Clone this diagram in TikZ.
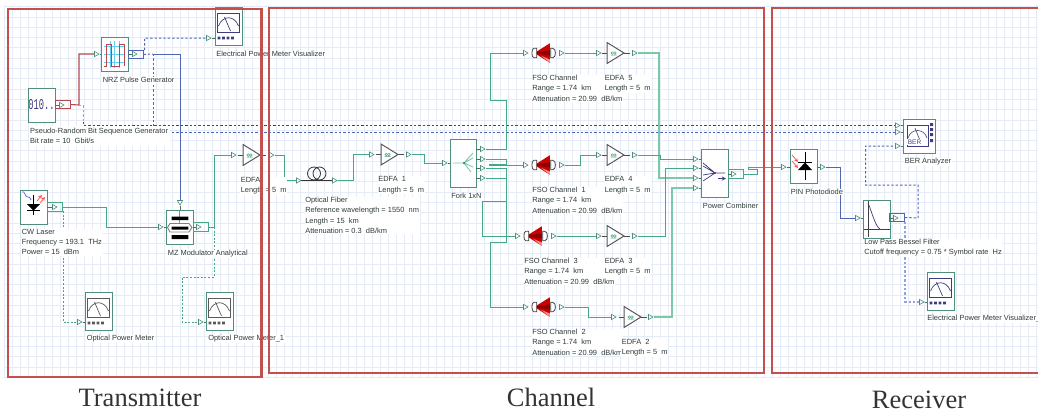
\documentclass[tikz,border=0pt]{standalone}
\usepackage{fontspec}
\setmainfont{Liberation Sans}
\newfontfamily\capfont{Liberation Serif}
\newfontfamily\monofont{Liberation Mono}
\usetikzlibrary{shapes.geometric}
\definecolor{gridblue}{HTML}{E5ECF8}
\definecolor{boxgreen}{HTML}{4F8F7C}
\definecolor{wiregreen}{HTML}{45A884}
\definecolor{wirelight}{HTML}{7CC9AA}
\definecolor{wireblue}{HTML}{4F66B4}
\definecolor{wirered}{HTML}{B5474A}
\definecolor{busred}{HTML}{A02030}
\definecolor{frame}{HTML}{C4504E}
\definecolor{navy}{HTML}{3C3C80}
\definecolor{labeltext}{HTML}{2F3B3B}
\begin{document}
\begin{tikzpicture}[x=1pt, y=-1pt,
  comp/.style={rectangle, draw=boxgreen, line width=0.9pt, fill=white,
    minimum width=27, minimum height=34, inner sep=0pt},
  meterbox/.style={comp, minimum height=38},
  port/.style={regular polygon, regular polygon sides=3, shape border rotate=-90,
    draw=boxgreen, fill=white, line width=0.6pt, minimum size=6, inner sep=0pt},
  portdown/.style={port, shape border rotate=180},
  pbox/.style={rectangle, draw=#1, line width=0.8pt, minimum width=15, minimum height=8.5,
    inner sep=0pt},
  tick/.style={draw=boxgreen!80!black, line width=0.7pt},
  wire/.style={draw=wiregreen, line width=1pt},
  wirel/.style={draw=wirelight, line width=1.3pt},
  bwire/.style={draw=wireblue, line width=1pt},
  rwire/.style={draw=wirered, line width=1.1pt},
  gdash/.style={wire, line width=0.9pt, dash pattern=on 2pt off 1.6pt},
  bdash/.style={bwire, dash pattern=on 2.4pt off 2pt},
  rdash/.style={draw=busred, line width=0.9pt, dash pattern=on 2.4pt off 2pt},
  lbl/.style={anchor=north west, align=left, fill=white, inner sep=0.6pt, text=labeltext,
    yshift=-1pt, font=\fontsize{7.45}{10.2}\selectfont},
  sectcap/.style={text=black!80, font=\capfont\fontsize{26.5}{28}\selectfont, inner sep=0pt},
  redbox/.style={draw=frame, line width=2.4pt},
  pics/meter/.style={code={
    \draw[#1, line width=0.9pt] (-11,-13) rectangle (11,6);
    \draw[#1, line width=0.7pt] (-10,0) .. controls (-6,-11) and (6,-11) .. (10,0);
    \draw[#1, line width=0.7pt] (-4,-9) -- (2,5);
    \fill[#1] (-11,10.5) rectangle ++(2.8,2.8) (-6.5,10.5) rectangle ++(2.8,2.8)
      (-2,10.5) rectangle ++(2.8,2.8) (2.5,10.5) rectangle ++(2.8,2.8);
  }},
  pics/edfa/.style={code={
    \draw[tick, black!70] (-14,0) -- (14,0);
    \draw[black!65, fill=white, line width=1pt] (-8.5,-10.5) -- (8.5,0) -- (-8.5,10.5) -- cycle;
    \draw[wiregreen, line width=0.5pt] (-3.2,0) circle (1.3) (-0.6,0) circle (1.3)
      (-5,2.2) -- (1,2.2);
  }},
  pics/fso/.style={code={
    \draw[black!75, fill=white, line width=0.8pt] (-6.5,-4.7) -- (-9.5,-4.7)
      .. controls (-12,-4.7) and (-12,4.7) .. (-9.5,4.7) -- (-6.5,4.7) -- cycle;
    \fill[red!80!black] (-6.5,-1.5) -- (6.5,-9.7) -- (6.5,9.7) -- (-6.5,1.5) -- cycle;
    \fill[red!55!black] (-6.5,-0.8) -- (6.5,-2.5) -- (6.5,2.5) -- (-6.5,0.8) -- cycle;
    \fill[red!45] (-2,2.9) -- (6.5,6.5) -- (6.5,9.7) -- cycle;
    \draw[black!75, fill=white, line width=0.8pt] (7.4,-4.7) -- (9.5,-4.7)
      .. controls (13,-4.7) and (13,4.7) .. (9.5,4.7) -- (7.4,4.7) -- cycle;
  }},
]

% Background grid
\useasboundingbox (0,0) rectangle (1038,413);
\foreach \gx in {4.7,12.7,...,1038}
  \draw[gridblue, line width=1pt] (\gx,5) -- (\gx,378);
\foreach \gy in {6.7,17,...,378}
  \draw[gridblue, line width=1pt] (4.7,\gy) -- (1038,\gy);

% Transmitter components
\node[comp] (prbs) at (41.5,105) {};
\node[text=navy, font=\monofont\fontsize{15}{15}\selectfont, xscale=0.58, transform shape, inner sep=0pt]
  (prbsdigits) at (41.5,105) {010..};
\node[comp] (nrz) at (114.5,54.5) {};
\draw[cyan!60, line width=0.6pt] (104,46) -- (125,46) (104,54) -- (125,54) (104,62) -- (125,62)
  (110,41) -- (110,68) (114.5,41) -- (114.5,68) (119,41) -- (119,68);
\draw[wirered, line width=0.9pt] (104,66) -- (106,66) -- (106,44) -- (111,44) -- (111,66)
  -- (119,66) -- (119,44) -- (124,44) -- (124,66);
\node[meterbox] (viz) at (228.5,26) {};
\pic at (228.5,26) {meter=navy};
\node[comp] (laser) at (33.5,207) {};
\draw[wireblue, line width=0.7pt] (22,192) .. controls (25,190) and (25,198) .. (28,197)
  .. controls (30,196) and (30,199) .. (31,200);
\draw[black, line width=0.8pt] (33,195) -- (33,215) (27,210.5) -- (40,210.5);
\fill[black] (27,204) -- (40,204) -- (33.5,210.5) -- cycle;
\draw[red!70, line width=0.7pt, -stealth] (40,203) -- (45,197);
\draw[red!70, line width=0.7pt, -stealth] (37,201) -- (42,195);
\node[comp] (mz) at (179.5,227.5) {};
\draw[black!45, line width=1pt] (179.5,211) -- (179.5,224);
\fill[black] (171.7,216.7) rectangle (188.3,220) (171.7,226.5) rectangle (188.3,229.5)
  (171.7,235) rectangle (188.3,239);
\draw[black!50, line width=0.9pt] (170,223.5) -- (189,223.5) -- (192,227.5) -- (189,232)
  -- (170,232) -- (167.5,227.5) -- cycle;
\node[meterbox] (opm) at (98.5,311) {};
\pic at (98.5,311) {meter=black!65};
\node[meterbox] (opmb) at (219.5,311) {};
\pic at (219.5,311) {meter=black!65};

% Channel components
\pic (edfa) at (251.5,155) {edfa};
\draw[black!80, line width=0.8pt] (298,180.5) -- (334,180.5);
\draw[black!80, line width=0.8pt] (314,173.5) circle (6.5) (319.5,173.5) circle (6.5);
\pic (edfaA) at (389.5,154.5) {edfa};
\node[comp, minimum width=26, minimum height=48] (fork) at (463,163) {};
\draw[wirelight, line width=0.9pt] (452.5,163) -- (464,163) -- (473,153) (464,163) -- (473,158)
  (464,163) -- (473,167) (464,163) -- (471,172);
\fill[wiregreen!70!black] (464,163) circle (1.1);
\pic (fsoE) at (543.3,53) {fso};
\pic (edfaE) at (615.5,53) {edfa};
\pic (fsoB) at (543.3,165) {fso};
\pic (edfaD) at (615.5,155) {edfa};
\pic (fsoD) at (535.3,236) {fso};
\pic (edfaC) at (615.5,236) {edfa};
\pic (fsoC) at (543.3,307) {fso};
\pic (edfaB) at (632.5,317) {edfa};
\node[comp, minimum height=48] (comb) at (714.5,173) {};
\draw[navy, line width=0.7pt] (703,163) -- (715,173) (703,166) -- (715,173) (703,175) -- (715,173)
  (703,181) -- (715,173) -- (725,173);
\fill[busred] (715,173) circle (1.1);
\draw[navy, line width=0.9pt, -stealth] (718,178.5) -- (726,178.5);

% Receiver components
\node[comp] (pin) at (803.5,166) {};
\draw[black, line width=0.8pt] (805,152) -- (805,180) (798,162.5) -- (812,162.5);
\fill[black] (798,170) -- (812,170) -- (805,162.5) -- cycle;
\draw[red!70, line width=0.7pt, -stealth] (792,155) -- (798,162);
\draw[red!70, line width=0.7pt, -stealth] (792,161) -- (798,168);
\node[comp, minimum height=38] (filt) at (876.5,219) {};
\draw[black!75, line width=0.8pt] (868.3,201) -- (868.3,237) (863.5,229.5) -- (889.5,229.5);
\draw[navy, line width=0.7pt] (868,203) .. controls (872,212) and (875,226) .. (880,229);
\node[comp, minimum width=32] (ber) at (919,136) {};
\draw[navy, line width=0.8pt] (907,125) rectangle (928,146);
\draw[navy, line width=0.6pt] (908,138) .. controls (911,128) and (924,128) .. (927,138)
  (915,128) -- (921,143);
\fill[navy] (930,123) rectangle ++(3,3) (930,128) rectangle ++(3,3)
  (930,133) rectangle ++(3,3) (930,139) rectangle ++(3,3);
\node[fill=white, text=navy, inner sep=0.4pt, font=\fontsize{6.5}{7}\selectfont] (bertext) at (914.5,142) {BER};
\node[meterbox] (vizb) at (940.5,291) {};
\pic at (940.5,291) {meter=navy};

% Output loops beside the components
\node[pbox=wirered] (prbsB) at (62.5,104.5) {};
\node[pbox=wireblue] (nrzB) at (135.5,54.5) {};
\node[pbox=wiregreen] (lasB) at (54.5,207) {};
\node[pbox=wiregreen] (mzB) at (200.5,227) {};
\node[pbox=wiregreen] (combB) at (735.5,174) {};
\node[pbox=wireblue] (filtB) at (897,217.5) {};

% Ports
\node[port] (prbsO) at (61,105) {};
\node[port] (nrzI) at (96,54) {};
\node[port] (nrzO) at (134,54) {};
\node[port] (vizI) at (208,38) {};
\node[port] (lasO) at (54,207) {};
\node[portdown] (mzT) at (180,202) {};
\node[port] (mzI) at (160,227) {};
\node[port] (mzO) at (198,227) {};
\node[port] (opmI) at (79,322) {};
\node[port] (opmbI) at (200,322) {};
\node[port] (edfaI) at (233,155) {};
\node[port] (edfaO) at (271,155) {};
\node[port] (fibI) at (298,180.5) {};
\node[port] (fibO) at (334,180.5) {};
\node[port] (edfaAI) at (371,154.5) {};
\node[port] (edfaAO) at (408,154.5) {};
\node[port] (forkI) at (444,163) {};
\node[port] (forkA) at (482,149) {};
\node[port] (forkB) at (482,159) {};
\node[port] (forkC) at (482,168) {};
\node[port] (forkD) at (482,178) {};
\node[port] (fsoEI) at (525,53) {};
\node[port] (fsoEO) at (561,53) {};
\node[port] (edfaEI) at (598,53) {};
\node[port] (edfaEO) at (634,53) {};
\node[port] (fsoBI) at (525,165) {};
\node[port] (fsoBO) at (561,165) {};
\node[port] (edfaDI) at (598,155) {};
\node[port] (edfaDO) at (634,155) {};
\node[port] (fsoDI) at (517,236) {};
\node[port] (fsoDO) at (553,236) {};
\node[port] (edfaCI) at (598,236) {};
\node[port] (edfaCO) at (634,236) {};
\node[port] (fsoCI) at (525,307) {};
\node[port] (fsoCO) at (561,307) {};
\node[port] (edfaBI) at (613,317) {};
\node[port] (edfaBO) at (650,317) {};
\node[port] (combA) at (695,159) {};
\node[port] (combB1) at (695,168) {};
\node[port] (combC) at (695,178) {};
\node[port] (combD) at (695,188) {};
\node[port] (combO) at (733,174) {};
\node[port] (pinI) at (783,167) {};
\node[port] (pinO) at (822,167) {};
\node[port] (filtI) at (857,218) {};
\node[port] (filtO) at (895,218) {};
\node[port] (berA) at (897,125.5) {};
\node[port] (berB) at (897,132) {};
\node[port] (berC) at (897,146) {};
\node[port] (vizbI) at (921,302) {};

% Transmitter wires
\draw[rwire] (prbsB.east) -- (79,105) |- (nrzI);
\draw[draw=wirered!60, line width=1pt, dash pattern=on 2.4pt off 2pt] (79,105) -- (83,105) -- (83,122);
\draw[rdash] (83,122) |- (berA);
\draw[bdash] (nrzB.east) -- (153,54) (144.5,50) |- (vizI);
\draw[bdash] (153,54) |- (berB);
\draw[bwire] (153,54) -| (mzT);
\draw[wire] (lasB.east) -- (106,207) |- (mzI);
\draw[gdash] (63,211) |- (opmI);
\draw[wire] (mzB.east) -- (214,227) |- (edfaI);
\draw[gdash] (214,227) |- (182,277) |- (opmbI);

% Channel wires
\draw[wire] (edfaO) -- (284,155) |- (fibI);
\draw[wire] (fibO) -- (353,180.5) |- (edfaAI);
\draw[wire] (edfaAO) -- (424,154.5) |- (forkI);
\draw[wire] (forkA) -- (506,149) |- (490,100.5) |- (fsoEI);
\draw[wire] (forkB) -- (506,159) |- (489,164) |- (fsoBI);
\draw[wire] (forkC) -- (506,168) |- (490,242) |- (fsoCI);
\draw[wire] (forkD) -- (506,178) |- (482,201) |- (fsoDI);
\draw[wire] (fsoEO) -- (edfaEI);
\draw[wire] (fsoBO) -- (580,165) |- (edfaDI);
\draw[wire] (fsoDO) -- (edfaCI);
\draw[wire] (fsoCO) -- (588,307) |- (edfaBI);
\draw[wirel] (edfaEO) -- (659,53) |- (combC);
\draw[wire] (edfaDO) -- (660,155) |- (combA);
\draw[wire] (edfaCO) -- (665,236) |- (combB1);
\draw[wirel] (edfaBO) -- (672,317) |- (combD);
\draw[wire] (combB.east) -- (757,174) |- (748,169.5) |- (pinI);

% Receiver wires
\draw[bwire] (pinO) -- (840,167) |- (filtI);
\draw[bdash] (filtB.east) -- (918,218) |- (865.5,185) |- (berC);
\draw[draw=wireblue!60, line width=1.1pt, dash pattern=on 2.4pt off 2pt] (905,222) |- (vizbI);

% Short stubs between ports and components
\draw[tick] (prbsO) -- (prbsO -| prbs.east) (nrzI) -- (nrzI -| nrz.west) (nrzO) -- (nrzO -| nrz.east)
  (vizI) -- (vizI -| viz.west) (lasO) -- (lasO -| laser.east) (mzI) -- (mzI -| mz.west)
  (mzO) -- (mzO -| mz.east) (mzT) -- (mzT |- mz.north) (opmI) -- (opmI -| opm.west)
  (opmbI) -- (opmbI -| opmb.west) (forkI) -- (forkI -| fork.west) (forkA) -- (forkA -| fork.east)
  (forkB) -- (forkB -| fork.east) (forkC) -- (forkC -| fork.east) (forkD) -- (forkD -| fork.east)
  (combA) -- (combA -| comb.west) (combB1) -- (combB1 -| comb.west) (combC) -- (combC -| comb.west)
  (combD) -- (combD -| comb.west) (combO) -- (combO -| comb.east) (pinI) -- (pinI -| pin.west)
  (pinO) -- (pinO -| pin.east) (filtI) -- (filtI -| filt.west) (filtO) -- (filtO -| filt.east)
  (berA) -- (berA -| ber.west) (berB) -- (berB -| ber.west) (berC) -- (berC -| ber.west)
  (vizbI) -- (vizbI -| vizb.west);

% Labels, transmitter
\node[lbl] (vizL) at (215.5,49.5) {Electrical Power Meter Visualizer};
\node[lbl] (nrzL) at (102,75.5) {NRZ Pulse Generator};
\node[lbl, inner ysep=2pt, inner xsep=1.5pt] (prbsL) at (28.5,125) {Pseudo-Random Bit Sequence Generator\\Bit rate = 10~~Gbit/s};
\node[lbl] (laserL) at (21,227.5) {CW Laser\\Frequency = 193.1~~THz\\Power = 15~~dBm};
\node[lbl] (mzL) at (167,248.5) {MZ Modulator Analytical};
\node[lbl] (edfaL) at (240,175.5) {EDFA\\Length = 5~~m};
\node[lbl] (opmL) at (86,333.5) {Optical Power Meter};
\node[lbl] (opmbL) at (207.5,333.5) {Optical Power Meter\_1};

% Labels, channel
\node[lbl] (fibL) at (304.5,195.5) {Optical Fiber\\Reference wavelength = 1550~~nm\\Length = 15~~km\\Attenuation = 0.3~~dB/km};
\node[lbl] (edfaAL) at (377.5,175) {EDFA~~1\\Length = 5~~m};
\node[lbl] (forkL) at (450.5,191.5) {Fork 1xN};
\node[lbl] (fsoEL) at (531.5,73.5) {FSO Channel\\Range = 1.74~~km\\Attenuation = 20.99~~dB/km};
\node[lbl] (edfaEL) at (604,73.5) {EDFA~~5\\Length = 5~~m};
\node[lbl] (fsoBL) at (531.5,185.5) {FSO Channel~~1\\Range = 1.74~~km\\Attenuation = 20.99~~dB/km};
\node[lbl] (edfaDL) at (604,175) {EDFA~~4\\Length = 5~~m};
\node[lbl] (combL) at (702,201.5) {Power Combiner};
\node[lbl] (fsoDL) at (523.5,256.5) {FSO Channel~~3\\Range = 1.74~~km\\Attenuation = 20.99~~dB/km};
\node[lbl] (edfaCL) at (604,256.5) {EDFA~~3\\Length = 5~~m};
\node[lbl] (fsoCL) at (531.5,327.5) {FSO Channel~~2\\Range = 1.74~~km\\Attenuation = 20.99~~dB/km};
\node[lbl] (edfaBL) at (621,337.5) {EDFA~~2\\Length = 5~~m};

% Labels, receiver
\node[lbl] (pinL) at (790,187.5) {PIN Photodiode};
\node[lbl] (berL) at (904,156.5) {BER Analyzer};
\node[lbl] (filtL) at (863.5,237.5) {Low Pass Bessel Filter\\Cutoff frequency = 0.75 * Symbol rate~~Hz};
\node[lbl] (vizbL) at (926.5,313.5) {Electrical Power Meter Visualizer\_};

% Section frames
\draw[redbox] (8,9) rectangle (261.5,377);
\draw[redbox] (269,8) rectangle (764,373);
\draw[redbox] (1038,8) -- (772,8) -- (772,373) -- (1038,373);

% Section captions
\node[sectcap] (txcap) at (140,398) {Transmitter};
\node[sectcap] (chcap) at (551,397) {Channel};
\node[sectcap] (rxcap) at (919,400) {Receiver};

\end{tikzpicture}
\end{document}
